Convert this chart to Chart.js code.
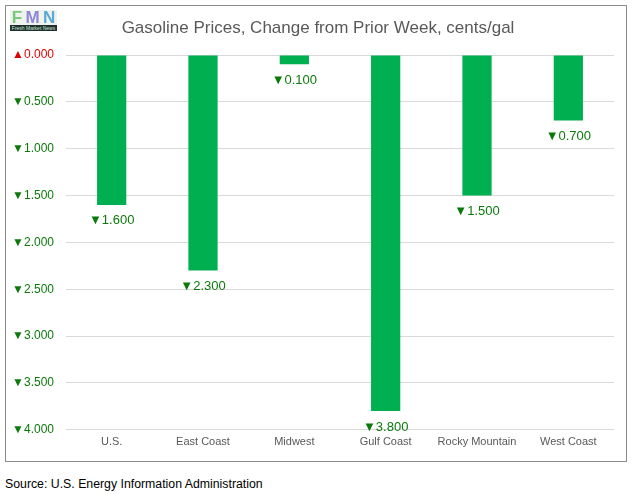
<!DOCTYPE html>
<html>
<head>
<meta charset="utf-8">
<script src="https://cdn.jsdelivr.net/npm/chart.js@4"></script>
<style>
  html, body { margin: 0; padding: 0; background: #fff; }
  body { width: 634px; height: 494px; position: relative; overflow: hidden; font-family: "Liberation Sans", Arial, sans-serif; }
  #box { position: absolute; left: 5px; top: 5px; width: 620px; height: 455px; border: 1px solid #8c8c8c; background: #fff; }
  #chartWrap { position: absolute; left: 0; top: 0; width: 620px; height: 455px; }
  #title { position: absolute; left: 0; top: 11px; width: 624px; text-align: center; font: 17px "Liberation Sans", Arial, sans-serif; color: #595959; line-height: 22px; white-space: nowrap; }
  #logo { position: absolute; left: 4px; top: 4px; width: 47px; height: 21px; background: #eef3ee; overflow: hidden; }
  #logo .letters { position: absolute; left: 0; top: -2px; width: 47px; height: 17px; font: bold 17px "Liberation Sans", Arial, sans-serif; display: flex; justify-content: space-around; }
  #logo .f { color: #79c979; } #logo .m { color: #8f86d8; } #logo .n { color: #5aa9d9; }
  #logo .strip { position: absolute; left: 0; bottom: 0; width: 47px; height: 6px; background: #1f2f2f; color: #cfe8cf; font: 5px "Liberation Sans", Arial, sans-serif; line-height: 6px; white-space: nowrap; text-align: center; }
  #source { position: absolute; left: 5px; top: 477px; font: 12.3px "Liberation Sans", Arial, sans-serif; color: #000; }
</style>
</head>
<body>
<div id="box">
  <div id="chartWrap"><canvas id="c"></canvas></div>
  <div id="title"></div>
  <div id="logo"><div class="letters"><span class="f">F</span><span class="m">M</span><span class="n">N</span></div><div class="strip">Fresh Market News</div></div>
</div>
<div id="source">Source: U.S. Energy Information Administration</div>
<script>
const categories = ["U.S.", "East Coast", "Midwest", "Gulf Coast", "Rocky Mountain", "West Coast"];
const changes = [-1.6, -2.3, -0.1, -3.8, -1.5, -0.7];
const tickValues = [0, -0.5, -1, -1.5, -2, -2.5, -3, -3.5, -4];
const titleText = "Gasoline Prices, Change from Prior Week, cents/gal";
document.getElementById("title").textContent = titleText;

function fmt(v) {
  const s = Math.abs(v).toFixed(3);
  return (v < 0 ? "\u25BC" : "\u25B2") + s;
}

const labelPlugin = {
  id: "barLabels",
  afterDatasetsDraw(chart) {
    const ctx = chart.ctx;
    const meta = chart.getDatasetMeta(0);
    ctx.save();
    ctx.font = '13px "Liberation Sans", Arial, sans-serif';
    ctx.fillStyle = "#0b7a0b";
    ctx.textAlign = "center";
    ctx.textBaseline = "middle";
    meta.data.forEach((bar, i) => {
      ctx.fillText(fmt(changes[i]), bar.x, bar.y + 16);
    });
    ctx.restore();
  }
};

new Chart(document.getElementById("c"), {
  type: "bar",
  data: {
    labels: categories,
    datasets: [{
      data: changes,
      backgroundColor: "#00b050",
      borderWidth: 0,
      barPercentage: 0.32,
      categoryPercentage: 1
    }]
  },
  options: {
    responsive: true,
    maintainAspectRatio: false,
    animation: false,
    layout: { padding: { left: 0, right: 12, top: 49, bottom: 6 } },
    plugins: {
      legend: { display: false },
      tooltip: { enabled: false },
      title: { display: false }
    },
    scales: {
      x: {
        grid: { display: false, drawTicks: false },
        border: { display: false },
        ticks: {
          color: "#595959",
          font: { family: '"Liberation Sans", Arial, sans-serif', size: 11 },
          padding: 6
        }
      },
      y: {
        min: -4,
        max: 0,
        afterBuildTicks(scale) { scale.ticks = tickValues.map(v => ({ value: v })); },
        afterFit(scale) { scale.width = 60; },
        grid: { color: "#d9d9d9", drawTicks: false },
        border: { display: false },
        ticks: {
          padding: 12,
          font: { family: '"Liberation Sans", Arial, sans-serif', size: 12 },
          color: (ctx) => (ctx.tick && ctx.tick.value === 0 ? "#e00000" : "#0b7a0b"),
          callback: (v) => fmt(v)
        }
      }
    }
  },
  plugins: [labelPlugin]
});
</script>
</body>
</html>
